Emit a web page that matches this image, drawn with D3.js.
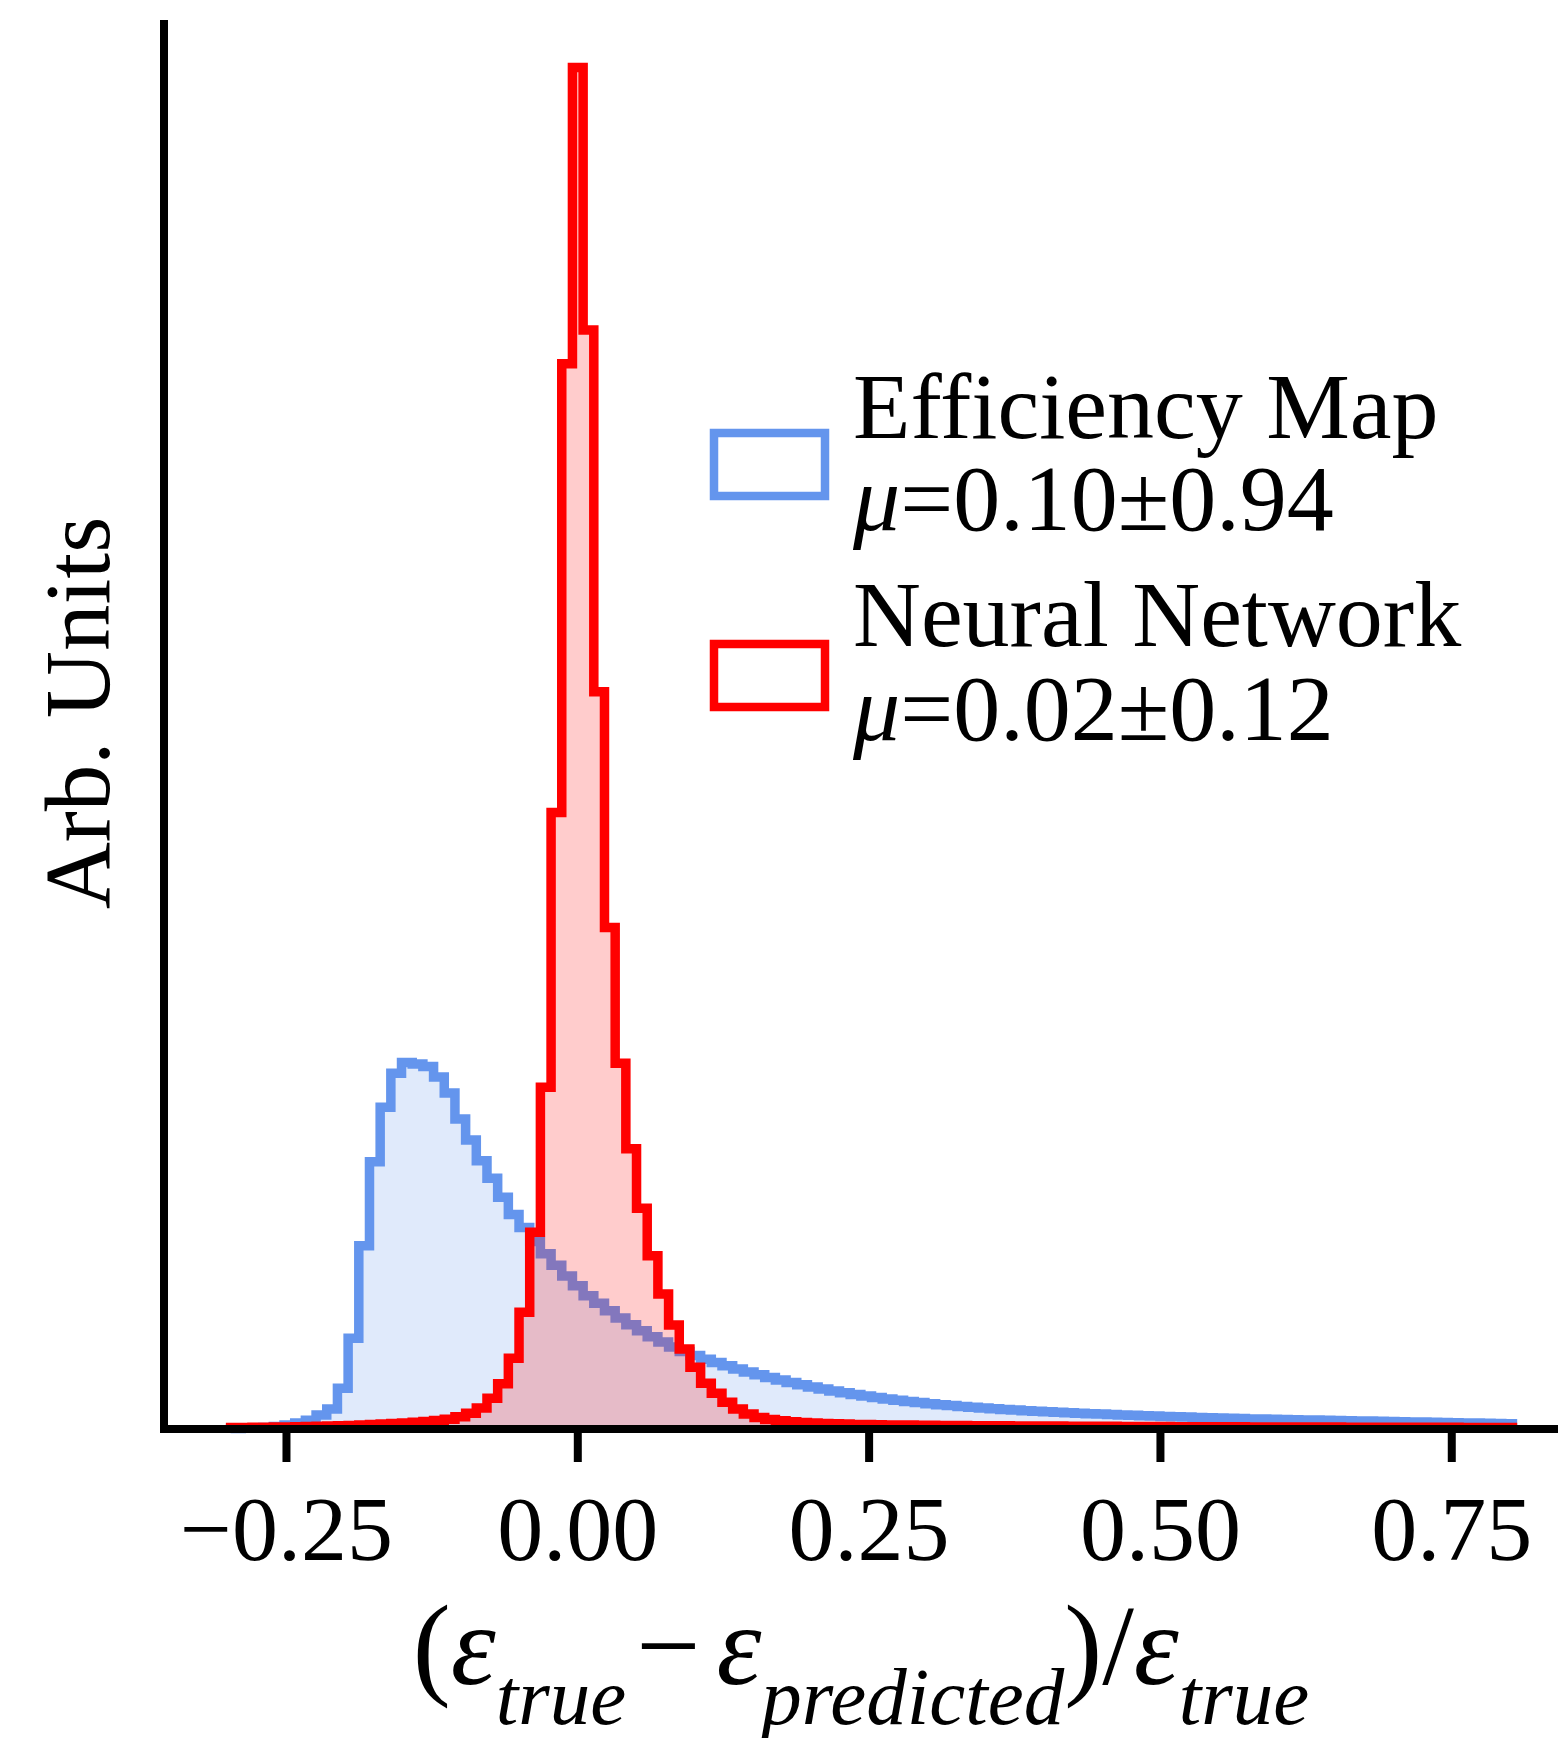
<!DOCTYPE html>
<html>
<head>
<meta charset="utf-8">
<script src="https://cdn.jsdelivr.net/npm/d3@7"></script>
<style>
  html, body { margin: 0; padding: 0; background: #fff; }
  svg { display: block; }
  text { font-family: "Liberation Serif", "Times New Roman", serif; fill: #000; }
</style>
</head>
<body>
<svg id="chart" width="1558" height="1738"></svg>
<script>
// histogram binning (same bins for both series)
const BIN_RANGE = [-0.2975, 0.8025];
const N_BINS = 120;

// bin contents, arb. units, left to right
const EFFICIENCY_MAP = [
  0.5, 0.7, 1.0, 1.5, 2.5, 4, 6, 8.7, 14, 20,
  40.7, 90.7, 183.3, 267.3, 321.7, 355.7, 366.5, 365, 362.5, 352,
  336, 310, 289, 268.3, 250.7, 231.7, 214.5, 201.5, 187.5, 175.3,
  163.7, 153, 143.3, 133.3, 125.7, 118.3, 111, 104.3, 98.3, 92.3,
  87, 82, 77.5, 73.5, 69.8, 66.4, 63.2, 60, 57, 54.2,
  51.5, 49, 46.6, 44.3, 42.1, 40, 38, 36.2, 34.5, 32.9,
  31.4, 30, 28.7, 27.5, 26.4, 25.3, 24.3, 23.4, 22.5, 21.7,
  20.9, 20.2, 19.5, 18.9, 18.3, 17.7, 17.2, 16.7, 16.2, 15.8,
  15.3, 14.9, 14.5, 14.1, 13.7, 13.3, 12.9, 12.5, 12.2, 11.9,
  11.6, 11.3, 11.0, 10.7, 10.4, 10.1, 9.9, 9.7, 9.5, 9.3,
  9.1, 8.9, 8.7, 8.5, 8.3, 8.1, 7.9, 7.7, 7.5, 7.3,
  7.1, 6.9, 6.7, 6.5, 6.3, 6.1, 5.9, 5.7, 5.5, 5.3,
];

const NEURAL_NET = [
  1.4, 1.5, 1.7, 1.8, 2.0, 2.1, 2.3, 2.5, 2.8, 3.0,
  3.3, 3.6, 4.0, 4.4, 4.9, 5.4, 6.0, 6.8, 7.5, 8.5,
  9.7, 12.3, 15.7, 21, 30.7, 45.3, 70.7, 116.7, 196.7, 341.7,
  616.5, 1065.2, 1361.4, 1099, 737.3, 501.5, 365.7, 280.3, 220.7, 173.3,
  135, 104, 80, 61.7, 45.7, 35.7, 26.7, 20, 15, 11.5,
  9.5, 8.2, 7.2, 6.5, 6.0, 5.6, 5.2, 4.9, 4.6, 4.4,
  4.2, 4.1, 4.0, 3.9, 3.8, 3.7, 3.6, 3.5, 3.4, 3.3,
  3.25, 3.2, 3.15, 3.1, 3.05, 3.0, 2.95, 2.9, 2.85, 2.8,
  2.75, 2.7, 2.65, 2.6, 2.55, 2.5, 2.45, 2.4, 2.35, 2.3,
  2.3, 2.25, 2.2, 2.2, 2.15, 2.1, 2.1, 2.05, 2.0, 2.0,
  1.95, 1.95, 1.9, 1.9, 1.85, 1.85, 1.8, 1.8, 1.75, 1.75,
  1.7, 1.7, 1.7, 1.65, 1.65, 1.6, 1.6, 1.6, 1.55, 1.55,
];

const X_TICKS = [-0.25, 0, 0.25, 0.5, 0.75];
const X_TICK_LABELS = ['\u22120.25', '0.00', '0.25', '0.50', '0.75'];

const SERIES = [
  { name: 'Efficiency Map', stat: '=0.10\u00b10.94', values: EFFICIENCY_MAP, color: '#6495ED' },
  { name: 'Neural Network', stat: '=0.02\u00b10.12', values: NEURAL_NET, color: '#FF0000' },
];

const W = 1558, H = 1738;
const margin = { top: 20, left: 164, bottom: 309 };
const LW = 9.5;

const svg = d3.select('#chart');
svg.append('rect').attr('width', W).attr('height', H).attr('fill', '#fff');

const x = d3.scaleLinear().domain([-0.35467, 0.84159]).range([margin.left, W]);
const y = d3.scaleLinear().domain([0, 1409]).range([H - margin.bottom, margin.top]);

const binW = (BIN_RANGE[1] - BIN_RANGE[0]) / N_BINS;
const edges = d3.range(N_BINS + 1).map(i => BIN_RANGE[0] + i * binW);

// step outline: up from zero at the first edge, across each bin, back to zero
function stepPoints(values) {
  const pts = [[edges[0], 0]];
  values.forEach((v, i) => pts.push([edges[i], v]));
  pts.push([edges[N_BINS], values[N_BINS - 1]]);
  pts.push([edges[N_BINS], 0]);
  return pts;
}

const line = d3.line().x(d => x(d[0])).y(d => y(d[1])).curve(d3.curveStepAfter);
const area = d3.area().x(d => x(d[0])).y0(y(0)).y1(d => y(d[1])).curve(d3.curveStepAfter);

const plot = svg.append('g');
for (const s of SERIES) {
  const pts = stepPoints(s.values);
  plot.append('path').attr('d', area(pts))
    .attr('fill', s.color).attr('fill-opacity', 0.2);
  plot.append('path').attr('d', line(pts))
    .attr('fill', 'none').attr('stroke', s.color)
    .attr('stroke-width', LW).attr('stroke-linejoin', 'miter');
}

// bottom axis
const xAxis = svg.append('g')
  .attr('transform', `translate(0,${y(0)})`)
  .call(d3.axisBottom(x).tickValues(X_TICKS).tickSize(33).tickSizeOuter(0)
    .tickFormat((d, i) => X_TICK_LABELS[i]));
xAxis.select('.domain').remove();
xAxis.selectAll('.tick line').attr('stroke', '#000').attr('stroke-width', 8);
xAxis.selectAll('.tick text')
  .attr('y', 131).attr('dy', null)
  .attr('font-size', 92)
  .attr('font-family', '"Liberation Serif", "Times New Roman", serif');

// spines
svg.append('line')
  .attr('x1', margin.left - 4).attr('x2', W)
  .attr('y1', y(0)).attr('y2', y(0))
  .attr('stroke', '#000').attr('stroke-width', 8);
svg.append('line')
  .attr('x1', margin.left).attr('x2', margin.left)
  .attr('y1', margin.top).attr('y2', y(0) + 4)
  .attr('stroke', '#000').attr('stroke-width', 8);

// y label
svg.append('text')
  .attr('transform', 'translate(109,713) rotate(-90)')
  .attr('text-anchor', 'middle')
  .attr('font-size', 93)
  .text('Arb. Units');

// x label: (eps_true - eps_predicted)/eps_true
const SUB_DY = 40;
const xl = svg.append('text')
  .attr('x', 861).attr('y', 1684)
  .attr('text-anchor', 'middle')
  .attr('font-size', 114);
const sub = t => xl.append('tspan').attr('font-style', 'italic')
  .attr('font-size', 81).attr('dy', SUB_DY).text(t);
xl.append('tspan').text('(');
xl.append('tspan').attr('font-style', 'italic').text('\u03b5');
sub('true');
xl.append('tspan').attr('dy', -SUB_DY).attr('dx', 10).text('\u2212');
xl.append('tspan').attr('dx', 16).attr('font-style', 'italic').text('\u03b5');
sub('predicted');
xl.append('tspan').attr('dy', -SUB_DY).text(')/');
xl.append('tspan').attr('font-style', 'italic').text('\u03b5');
sub('true');

// legend
const legend = svg.append('g');
const legendRows = [
  { boxY: 433, nameY: 438, statY: 530 },
  { boxY: 644, nameY: 646, statY: 740 },
];
SERIES.forEach((s, i) => {
  const r = legendRows[i];
  legend.append('rect')
    .attr('x', 714).attr('y', r.boxY).attr('width', 111).attr('height', 63)
    .attr('fill', 'none').attr('stroke', s.color).attr('stroke-width', LW - 1);
  legend.append('text').attr('x', 853).attr('y', r.nameY)
    .attr('font-size', 94).text(s.name);
  const st = legend.append('text').attr('x', 853).attr('y', r.statY).attr('font-size', 94);
  st.append('tspan').attr('font-style', 'italic').text('\u03bc');
  st.append('tspan').text(s.stat);
});
</script>
</body>
</html>
